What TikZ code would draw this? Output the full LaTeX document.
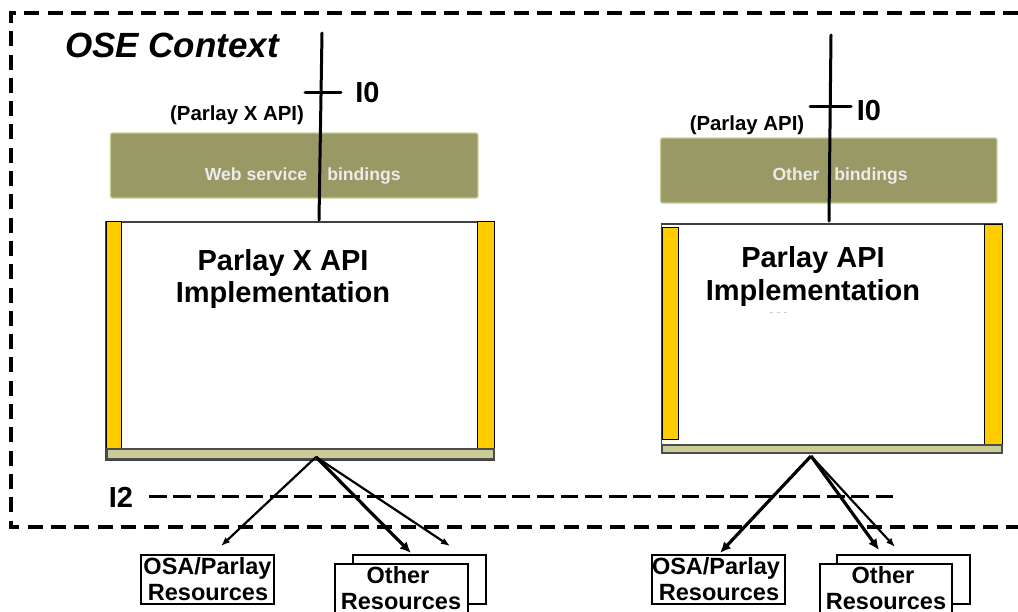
\documentclass[tikz,border=0pt]{standalone}
\usepackage{fontspec}
\setmainfont{Liberation Sans}
\usetikzlibrary{arrows.meta}
\definecolor{binding}{HTML}{999966}
\definecolor{bindingedge}{HTML}{CCCC99}
\definecolor{barfill}{HTML}{CCCC99}
\definecolor{amber}{HTML}{FFCC00}
\newcommand{\fsz}[1]{\fontsize{#1}{#1}\selectfont\bfseries}
\newcommand{\pbox}[6]{%
  \pgfmathsetmacro{\pbw}{#5-#3}\pgfmathsetmacro{\pbh}{#6-#4}%
  \pgfmathsetmacro{\pbx}{(#3+#5)/2}\pgfmathsetmacro{\pby}{(#4+#6)/2}%
  \node[#2,minimum width=\pbw pt,minimum height=\pbh pt] (#1) at (\pbx,\pby) {};}
\tikzset{
  every node/.style={inner sep=0pt,outer sep=0pt},
  frameline/.style={line width=4.5pt,dash pattern=on 15pt off 8.3pt},
  ifaceline/.style={line width=3pt,dash pattern=on 17.5pt off 6.72pt},
  impl/.style={draw=black!75,line width=1.2pt,fill=white},
  bar/.style={draw=black,line width=1pt,fill=amber},
  base/.style={draw=black!70,line width=1.2pt,fill=barfill},
  bindbox/.style={draw=bindingedge,line width=1.2pt,fill=binding,rounded corners=2pt},
  resbox/.style={draw=black,line width=2.8pt,fill=white},
  refline/.style={line width=3pt,line cap=round},
  thinarrow/.style={line width=2.2pt,-{Latex[length=9pt,width=7pt]}},
  thickarrow/.style={line width=3.2pt,-{Latex[length=11pt,width=10pt]}},
  bindtxt/.style={anchor=base,text=white!92!black,font=\fsz{17.6}},
  title/.style={anchor=base,font=\fsz{29}},
  api/.style={anchor=base,font=\fsz{20.4}},
  ifacelabel/.style={anchor=base,font=\fsz{29}},
  res/.style={anchor=base,font=\fsz{23.5}},
}
\begin{document}
\begin{tikzpicture}[x=1pt,y=-1pt]
\useasboundingbox (0,0) rectangle (1018,611);
\fill[white] (0,0) rectangle (1018,611);
% context frame
\coordinate (ftr) at (1018,13);
\coordinate (ftl) at (11,13);
\coordinate (fbl) at (11,527);
\coordinate (fbr) at (1018,527);
\draw[frameline] (ftr) -- (ftl) -- (fbl) -- (fbr);
\node[anchor=base,font=\fontsize{35}{35}\selectfont\bfseries\itshape] (ose) at (172,57) {OSE Context};
% left stack
\pbox{lgreen}{bindbox}{110.5}{133}{478}{198}
\pbox{limpl}{impl}{106}{222}{494}{460}
\pbox{lbarl}{bar}{106}{221}{121}{449}
\pbox{lbarr}{bar}{477}{221}{494}{448}
\pbox{lbase}{base}{107}{449}{494}{459}
\node[bindtxt] (lws) at (256,180) {Web service};
\node[bindtxt] (lbd) at (364,180) {bindings};
\node[title] (lt1) at (283,270) {Parlay X API};
\node[title] (lt2) at (283,302) {Implementation};
\node[api] (lapi) at (237,120) {(Parlay X API)};
\node[ifacelabel] (li0) at (367.5,102) {I0};
\coordinate (lrt) at (322,33);
\coordinate (lrb) at (319,220);
\coordinate (lcl) at (305,92);
\coordinate (lcr) at (341,92);
\draw[refline] (lrt) -- (lrb);
\draw[refline] (lcl) -- (lcr);
% right stack
\pbox{rgreen}{bindbox}{660.5}{138}{997}{203}
\pbox{rimpl}{impl}{661.5}{224}{1002}{453}
\pbox{rbarl}{bar}{662}{227}{678}{439}
\pbox{rbarr}{bar}{984}{224}{1002}{445}
\pbox{rbase}{base}{662}{445}{1002}{453}
\node[bindtxt] (rot) at (796,180.5) {Other};
\node[bindtxt] (rbd) at (871,180.5) {bindings};
\node[title] (rt1) at (813,267) {Parlay API};
\node[title] (rt2) at (813,300) {Implementation};
\node[api] (rapi) at (747,130) {(Parlay API)};
\node[ifacelabel] (ri0) at (869,120) {I0};
\coordinate (rrt) at (831,35);
\coordinate (rrb) at (829,221);
\coordinate (rcl) at (810,106);
\coordinate (rcr) at (851,106);
\draw[refline] (rrt) -- (rrb);
\draw[refline] (rcl) -- (rcr);
\coordinate (dl) at (770,312);
\coordinate (dr) at (787,312);
\draw[black!20,line width=1pt,dash pattern=on 3pt off 4pt] (dl) -- (dr);
% I2
\node[ifacelabel] (i2) at (121,507) {I2};
\coordinate (i2a) at (149,496);
\coordinate (i2b) at (893,496);
\draw[ifaceline] (i2a) -- (i2b);
% resources
\pbox{losa}{resbox}{141}{555}{274}{604}
\pbox{lback}{resbox}{353}{555}{486}{604}
\pbox{lfront}{resbox}{335}{564}{468}{625}
\pbox{rosa}{resbox}{652}{555}{785}{604}
\pbox{rback}{resbox}{837}{555}{970}{604}
\pbox{rfront}{resbox}{820}{564}{952}{625}
\node[res] (losa1) at (207.5,574) {OSA/Parlay};
\node[res] (losa2) at (208,600) {Resources};
\node[res] (loth1) at (398,583) {Other};
\node[res] (loth2) at (401,609) {Resources};
\node[res] (rosa1) at (716,574) {OSA/Parlay};
\node[res] (rosa2) at (719,600) {Resources};
\node[res] (roth1) at (883,583) {Other};
\node[res] (roth2) at (886,609) {Resources};
% connectors
\coordinate (lo) at (316,457);
\coordinate (la) at (221,546);
\coordinate (lb) at (411,553);
\coordinate (lc) at (450,546);
\draw[thinarrow] (lo) -- (la);
\draw[thickarrow] (lo) -- (lb);
\draw[thinarrow] (lo) -- (lc);
\coordinate (ro) at (811,456);
\coordinate (ra) at (720,553);
\coordinate (rb) at (879,550);
\coordinate (rc) at (895,547);
\draw[thickarrow] (ro) -- (ra);
\draw[thickarrow] (ro) -- (rb);
\draw[thinarrow] (ro) -- (rc);
\end{tikzpicture}
\end{document}
